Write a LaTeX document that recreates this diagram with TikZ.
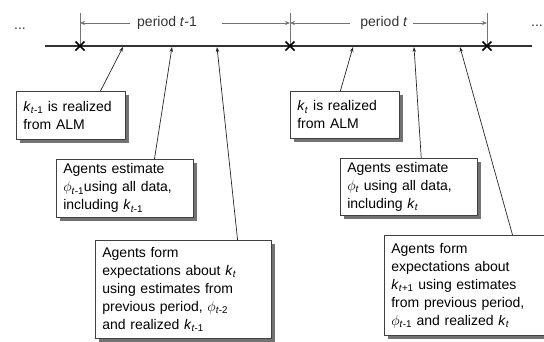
\documentclass[tikz,border=0pt]{standalone}
\usepackage{fontspec}
\setmainfont{Liberation Sans}
\usetikzlibrary{arrows.meta,shadows,calc}
\newcommand\myk[1]{\textit{k}\textsubscript{#1}}
\newcommand\myphi[1]{$\phi$\textsubscript{#1}}
\begin{document}
\begin{tikzpicture}[x=1pt,y=-1pt,
  box/.style={draw=black!75, line width=0.7pt, fill=white, anchor=north west,
    align=left, inner xsep=7pt, inner ysep=3pt,
    font=\fontsize{14}{18}\selectfont,
    drop shadow={shadow xshift=4pt, shadow yshift=-4pt, fill=black!55, opacity=1}},
  dim/.style={draw=black!55, line width=0.6pt},
  dimarrow/.style={dim, -{Stealth[length=5pt,width=4pt]}},
  ptr/.style={draw=black!85, line width=0.7pt, -{Stealth[length=5pt,width=3.5pt]}},
  cross/.style={draw=black, line width=1.6pt},
  lbl/.style={font=\fontsize{14}{16}\selectfont, text=black!80, inner sep=0pt}
]
\useasboundingbox (0,0) rectangle (544,341);

% ticks
\coordinate (T1) at (80,46);
\coordinate (T2) at (290,46);
\coordinate (T3) at (487,46);
\coordinate (U1) at (80,13);
\coordinate (U2) at (290,13);
\coordinate (U3) at (487,13);
\draw[dim] (U1) -- (T1);
\draw[dim] (U2) -- (T2);
\draw[dim] (U3) -- (T3);

% period labels
\node[lbl] (pa) at (167,23) {period \textit{t}-1};
\node[lbl] (pb) at (384,23) {period \textit{t}};
\coordinate (D1) at (80,23);
\coordinate (D2) at (290,23);
\coordinate (D3) at (487,23);
\coordinate (pal) at (130,23);
\coordinate (par) at (222,23);
\coordinate (pbl) at (350,23);
\coordinate (pbr) at (413,23);
\draw[dimarrow] (pal) -- (D1);
\draw[dimarrow] (par) -- (D2);
\draw[dimarrow] (pbl) -- (D2);
\draw[dimarrow] (pbr) -- (D3);

% timeline
\coordinate (L0) at (45,46);
\coordinate (L1) at (532,46);
\draw[draw=black!80, line width=2pt] (L0) -- (L1);
\foreach \c in {T1,T2,T3}{
  \draw[cross] ($(\c)+(-4.5,-4.5)$) -- ($(\c)+(4.5,4.5)$);
  \draw[cross] ($(\c)+(-4.5,4.5)$) -- ($(\c)+(4.5,-4.5)$);
}

\node[lbl] (dl) at (20,29) {...};
\node[lbl] (dr) at (537,26) {...};

% boxes
\node[box, text width=95pt, minimum height=48pt] (b1) at (16,91)
  {\myk{\textit{t}-1} is realized\\from ALM};
\node[box, text width=123pt, minimum height=58pt] (b2) at (56,159)
  {Agents estimate\\ \myphi{\textit{t}-1}using all data,\\including \myk{\textit{t}-1}};
\node[box, text width=162pt, minimum height=98pt] (b3) at (95,240)
  {Agents form\\expectations about \myk{\textit{t}}\\using estimates from\\previous period, \myphi{\textit{t}-2}\\and realized \myk{\textit{t}-1}};
\node[box, text width=95pt, minimum height=47pt] (b4) at (290,91)
  {\myk{\textit{t}} is realized\\from ALM};
\node[box, text width=123pt, minimum height=57pt] (b5) at (340,158)
  {Agents estimate\\\myphi{\textit{t}} using all data,\\including \myk{\textit{t}}};
\node[box, text width=152pt, minimum height=100pt] (b6) at (384,235)
  {Agents form\\expectations about\\\myk{\textit{t}+1} using estimates\\from previous period,\\\myphi{\textit{t}-1} and realized \myk{\textit{t}}};

% pointer targets
\coordinate (p1) at (123,47);
\coordinate (p2) at (172,47);
\coordinate (p3) at (217,47);
\coordinate (p4) at (353,47);
\coordinate (p5) at (414,47);
\coordinate (p6) at (460,47);
\draw[ptr] ($(b1.north west)!0.77!(b1.north east)$) -- (p1);
\draw[ptr] ($(b2.north west)!0.715!(b2.north east)$) -- (p2);
\draw[ptr] ($(b3.north west)!0.807!(b3.north east)$) -- (p3);
\draw[ptr] ($(b4.north west)!0.459!(b4.north east)$) -- (p4);
\draw[ptr] ($(b5.north west)!0.59!(b5.north east)$) -- (p5);
\draw[ptr] ($(b6.north west)!0.771!(b6.north east)$) -- (p6);
\end{tikzpicture}
\end{document}
